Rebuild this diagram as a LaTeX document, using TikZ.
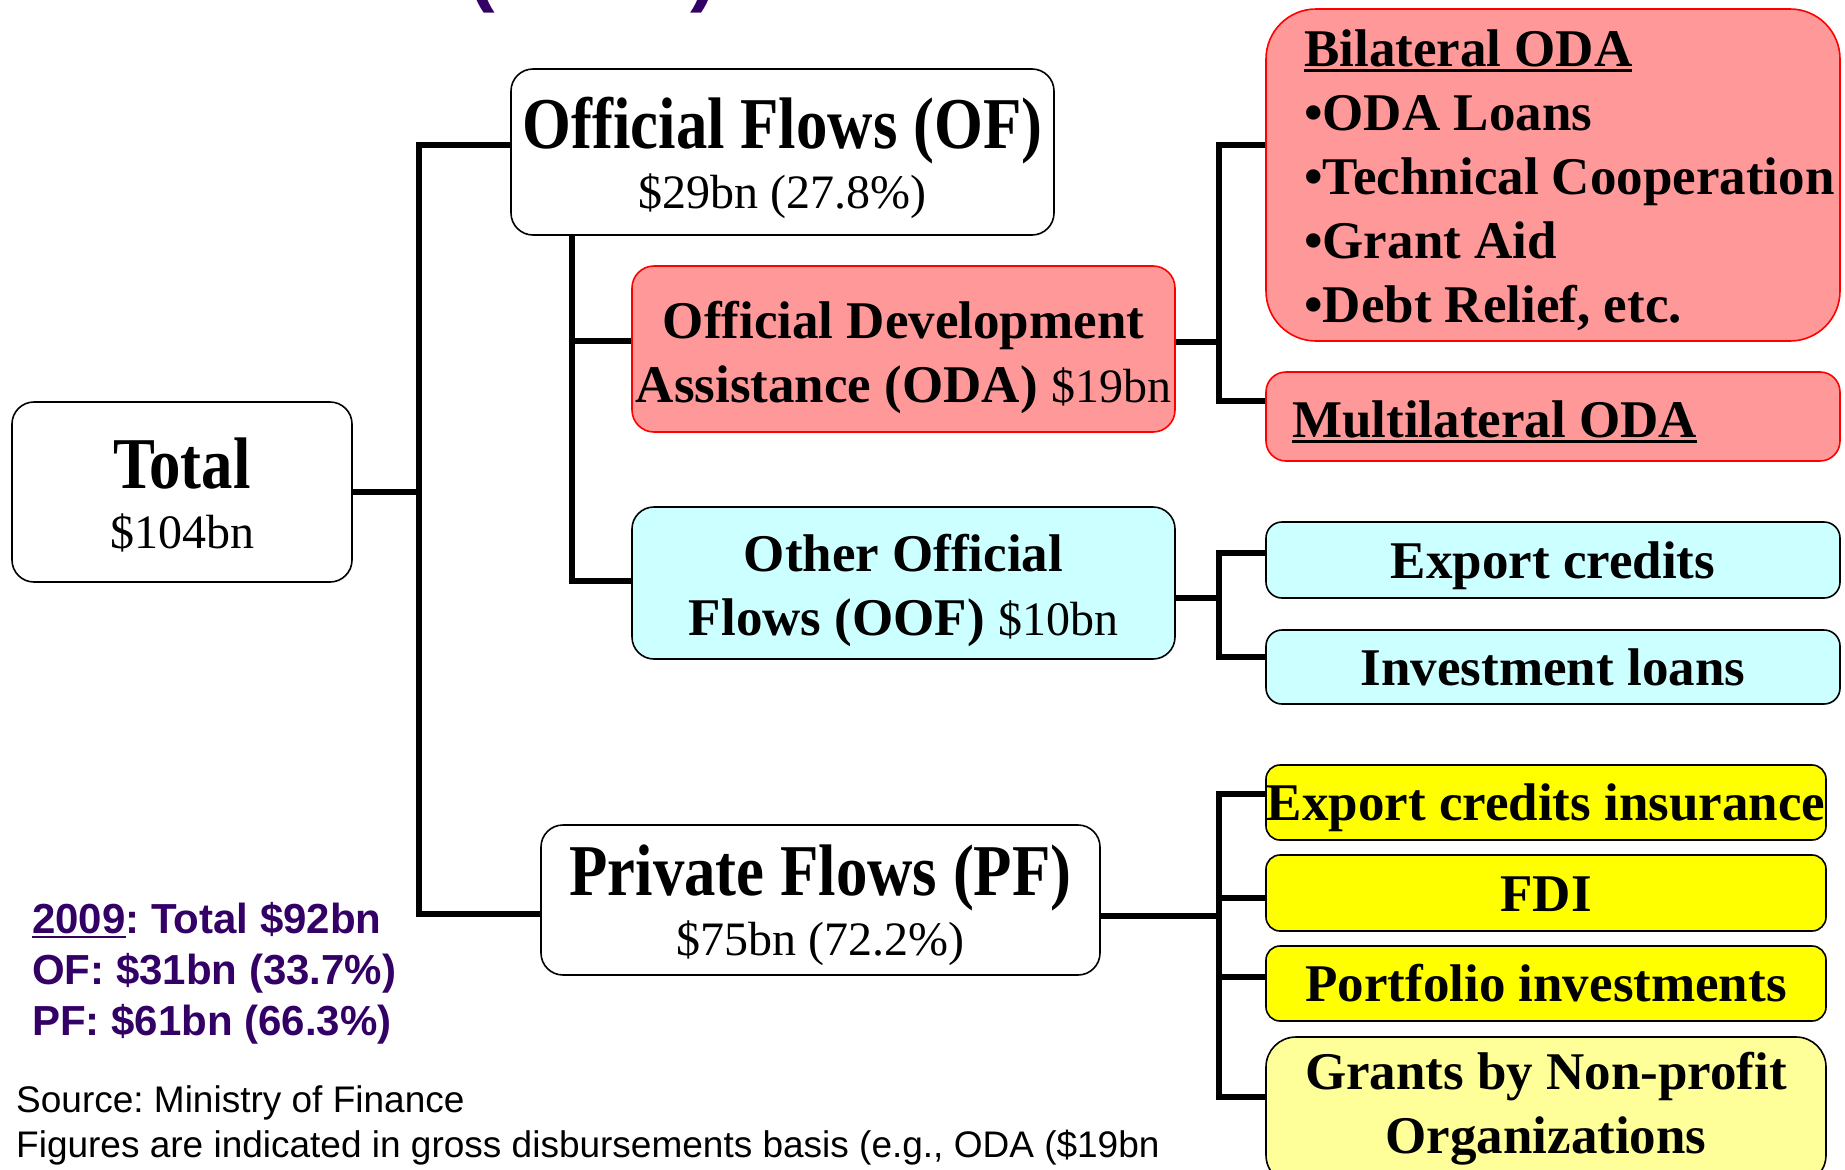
\documentclass[tikz,border=0pt]{standalone}
\usepackage{fontspec}
\setmainfont{Liberation Serif}
\setsansfont{Liberation Sans}
\newfontfamily\condserif{Liberation Serif}[FakeStretch=0.86]
\definecolor{odapink}{HTML}{FF9999}
\definecolor{oofcyan}{HTML}{CCFFFF}
\definecolor{pfyellow}{HTML}{FFFF00}
\definecolor{npyellow}{HTML}{FFFF99}
\definecolor{deeppurple}{HTML}{330066}
\frenchspacing
\newcommand\regtxt[1]{{\rmfamily\mdseries\fontsize{48}{60}\selectfont #1}}
\newcommand\undl[3]{\setbox0\hbox{#1}\rlap{\rule[-#2]{\wd0}{#3}}\box0}
\tikzset{
  box/.style={draw=black, line width=1.6pt, rounded corners=22pt, inner sep=0pt, align=center},
  bigtxt/.style={font=\condserif\bfseries\fontsize{73}{60}\selectfont},
  midtxt/.style={font=\bfseries\fontsize{53}{64}\selectfont},
  onel/.style={text height=36pt, text depth=0pt},
  pinkbox/.style={box, draw=red, fill=odapink},
  cyanbox/.style={box, fill=oofcyan},
  ylwbox/.style={box, fill=pfyellow, rounded corners=14pt},
  conn/.style={line width=6.5pt, line join=miter}
}
\begin{document}
\begin{tikzpicture}[x=1pt,y=-1pt]
\useasboundingbox (0,0) rectangle (1845,1170);

% title remnant
\node[font=\sffamily\bfseries\fontsize{80}{96}\selectfont, text=deeppurple, anchor=base west, inner sep=0pt] (title) at (468,-4) {(\hspace{196pt})};

% main boxes
\node[box, bigtxt, minimum width=340pt, minimum height=180pt, text height=112pt, text depth=0pt] (total) at (182,492) {Total\\\regtxt{\$104bn}};
\node[box, bigtxt, minimum width=543pt, minimum height=166pt, text height=112pt, text depth=0pt] (of) at (782.5,152) {Official Flows (OF)\\\regtxt{\$29bn (27.8\%)}};
\node[pinkbox, midtxt, minimum width=543pt, minimum height=166pt, text height=106pt, text depth=0pt] (oda) at (903.5,349) {Official Development\\Assistance (ODA) \regtxt{\$19bn}};
\node[cyanbox, midtxt, minimum width=543pt, minimum height=152pt, text height=104pt, text depth=0pt] (oof) at (903.5,583) {Other Official\\Flows (OOF) \regtxt{\$10bn}};
\node[box, bigtxt, minimum width=559pt, minimum height=150pt, text height=110pt, text depth=0pt] (pf) at (820.5,900) {Private Flows (PF)\\\regtxt{\$75bn (72.2\%)}};

% right column
\node[pinkbox, rounded corners=50pt, minimum width=574pt, minimum height=332pt] (bilat) at (1553,175) {};
\node[midtxt, align=left, anchor=base west, inner sep=0pt] (bilattxt) at (1304,322) {\undl{Bilateral ODA}{6pt}{3pt}\\•ODA Loans\\•Technical Cooperation\\•Grant Aid\\•Debt Relief, etc.};
\node[pinkbox, rounded corners=20pt, minimum width=574pt, minimum height=89pt] (multi) at (1553,416.5) {};
\node[midtxt, anchor=base west, inner sep=0pt] (multitxt) at (1292,437) {\undl{Multilateral ODA}{6pt}{3pt}};
\node[cyanbox, midtxt, onel, rounded corners=16pt, minimum width=574pt, minimum height=76pt] (expc) at (1553,560) {Export credits};
\node[cyanbox, midtxt, onel, rounded corners=16pt, minimum width=574pt, minimum height=74pt] (invl) at (1553,667) {Investment loans};
\node[ylwbox, midtxt, onel, minimum width=560pt, minimum height=75pt] (eci) at (1546,802.5) {Export credits insurance};
\node[ylwbox, midtxt, onel, minimum width=560pt, minimum height=76pt] (fdi) at (1546,893) {FDI};
\node[ylwbox, midtxt, onel, minimum width=560pt, minimum height=75pt] (port) at (1546,983.5) {Portfolio investments};
\node[box, fill=npyellow, rounded corners=30pt, midtxt, minimum width=560pt, minimum height=148pt, text height=84pt, text depth=0pt] (grants) at (1546,1111) {Grants by Non-profit\\Organizations};

% notes
\node[font=\sffamily\bfseries\fontsize{42}{51}\selectfont, text=deeppurple, align=left, anchor=base west, inner sep=0pt] (note) at (32,1035) {\undl{2009}{5pt}{2.5pt}: Total \$92bn\\OF: \$31bn (33.7\%)\\PF: \$61bn (66.3\%)};
\node[font=\sffamily\fontsize{37}{45}\selectfont, align=left, anchor=base west, inner sep=0pt] (source) at (16,1157) {Source: Ministry of Finance\\Figures are indicated in gross disbursements basis (e.g., ODA (\$19bn};

% connectors
\coordinate (tTop) at (419,145);
\coordinate (tBot) at (419,914);
\draw[conn] (total.east) -- (total.east -| tTop);
\draw[conn] (of.west |- tTop) -- (tTop) -- (tBot) -- (pf.west |- tBot);

\coordinate (ofA) at (572,341);
\coordinate (ofB) at (572,581);
\draw[conn] (of.south -| ofA) -- (ofB) -- (oof.west |- ofB);
\draw[conn] (ofA) -- (oda.west |- ofA);

\coordinate (odaJ) at (1219,342);
\coordinate (odaT) at (1219,145);
\coordinate (odaB) at (1219,401);
\draw[conn] (oda.east |- odaJ) -- (odaJ);
\draw[conn] (bilat.west |- odaT) -- (odaT) -- (odaB) -- (multi.west |- odaB);

\coordinate (oofJ) at (1219,598);
\coordinate (oofT) at (1219,553);
\coordinate (oofB) at (1219,657);
\draw[conn] (oof.east |- oofJ) -- (oofJ);
\draw[conn] (expc.west |- oofT) -- (oofT) -- (oofB) -- (invl.west |- oofB);

\coordinate (pfJ) at (1219,916);
\coordinate (pfT) at (1219,794);
\coordinate (pfF) at (1219,898);
\coordinate (pfP) at (1219,977);
\coordinate (pfB) at (1219,1097);
\draw[conn] (pf.east |- pfJ) -- (pfJ);
\draw[conn] (eci.west |- pfT) -- (pfT) -- (pfB) -- (grants.west |- pfB);
\draw[conn] (pfF) -- (fdi.west |- pfF);
\draw[conn] (pfP) -- (port.west |- pfP);
\end{tikzpicture}
\end{document}
